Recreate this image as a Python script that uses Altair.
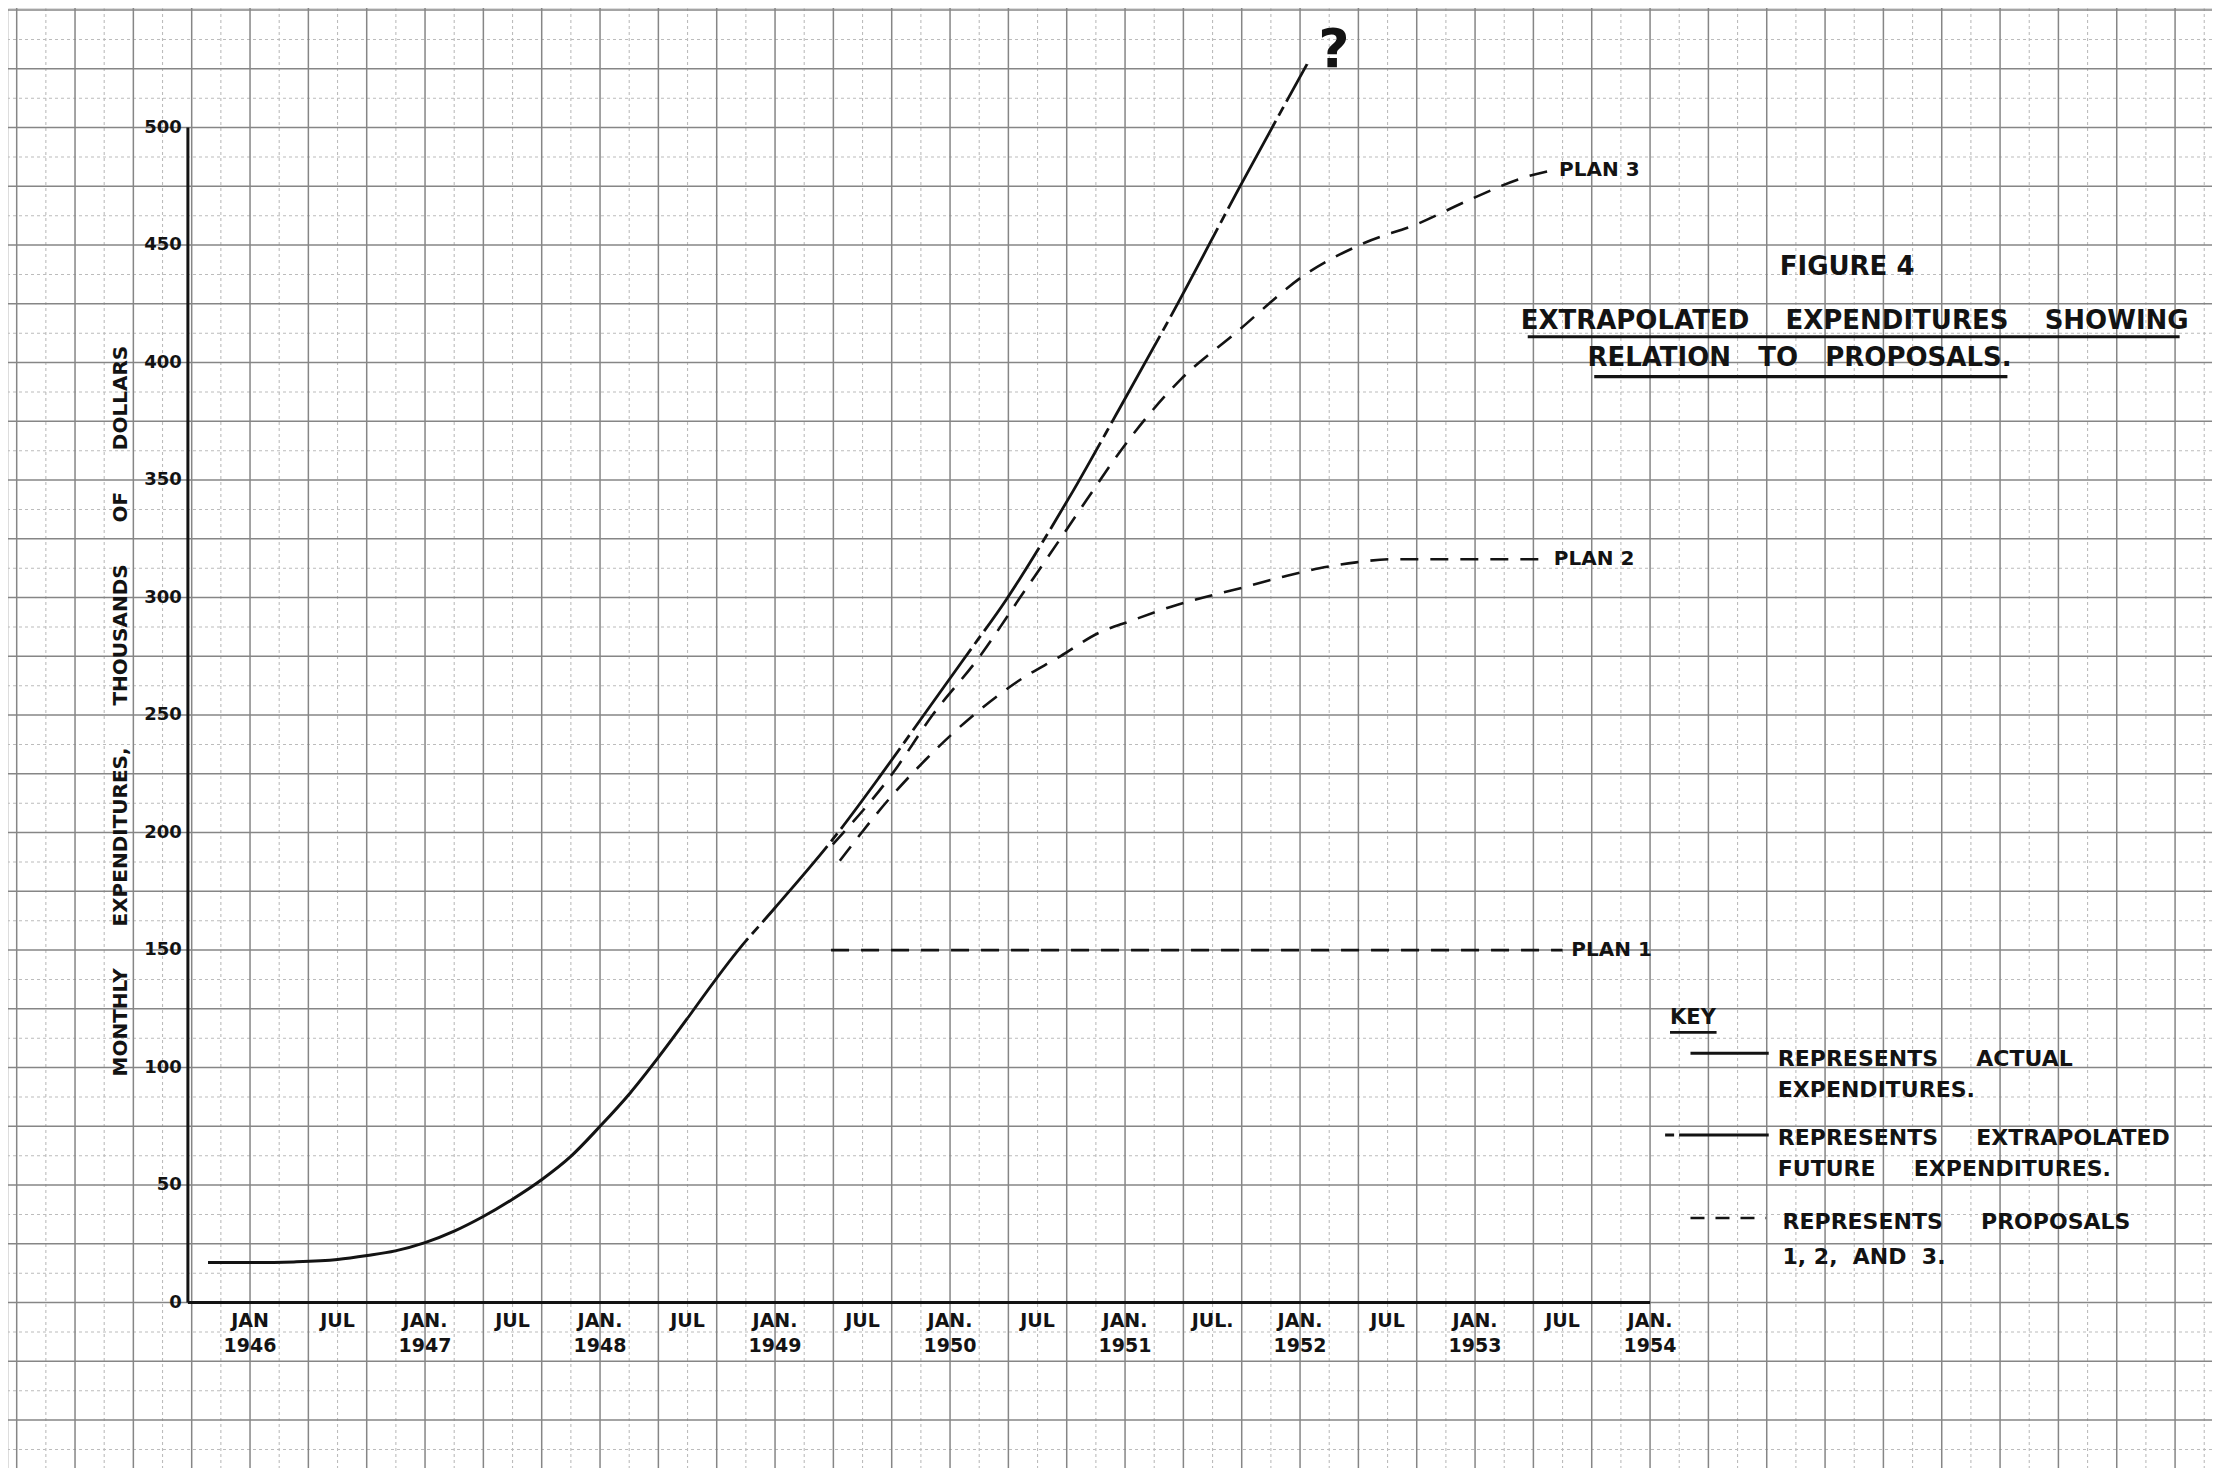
import altair as alt
import pandas as pd
import numpy as np

# ---------------- data ----------------
actual_year = [1945.76, 1946.0, 1946.25, 1946.5, 1946.67, 1946.83, 1947.0, 1947.17,
               1947.33, 1947.5, 1947.67, 1947.83, 1948.0, 1948.17, 1948.33, 1948.5]
actual_value = [17, 17, 17.3, 18.3, 20, 22, 25.5, 30.5, 36.5, 44, 52.5, 62, 75, 89, 104, 121]

extrap_year = [1948.5, 1948.79, 1949.0, 1949.36, 1949.6, 1949.84, 1950.08, 1950.32,
               1950.54, 1950.7, 1950.95, 1951.3, 1951.65, 1952.04]
extrap_value = [121, 150, 168, 200, 224, 249, 274, 299, 325, 345, 378, 425, 474, 527]

plan1_year = [1949.32, 1953.5]
plan1_value = [150, 150]

plan2_year = [1949.37, 1949.66, 1949.86, 1950.15, 1950.39, 1950.63, 1950.85, 1951.03,
              1951.3, 1951.5, 1951.71, 1951.91, 1952.11, 1952.32, 1952.52, 1953.4]
plan2_value = [188, 215, 231, 251, 264.5, 275, 285, 290, 297, 301, 305, 309, 312.5, 315, 316.3, 316.3]

plan3_year = [1949.33, 1949.67, 1949.9, 1950.17, 1950.4, 1950.63, 1950.78, 1950.97,
              1951.32, 1951.63, 1952.04, 1952.37, 1952.67, 1952.96, 1953.29, 1953.45]
plan3_value = [195, 225, 250, 275, 300, 325, 341.5, 362, 393, 412.5, 438, 451, 459, 469, 479, 482]

plan_label_text = ["PLAN 3", "PLAN 2", "PLAN 1"]
plan_label_year = [1953.48, 1953.45, 1953.55]
plan_label_value = [482, 316.3, 150]

x_tick_pos = [1946.0 + 0.5 * i for i in range(17)]
x_tick_month = ["JAN", "JUL", "JAN.", "JUL", "JAN.", "JUL", "JAN.", "JUL", "JAN.",
                "JUL", "JAN.", "JUL.", "JAN.", "JUL", "JAN.", "JUL", "JAN."]
x_tick_year = ["1946", "", "1947", "", "1948", "", "1949", "", "1950",
               "", "1951", "", "1952", "", "1953", "", "1954"]
y_tick_values = [0, 50, 100, 150, 200, 250, 300, 350, 400, 450, 500]

axis_x_start, axis_x_end = 1945.645, 1954.0
axis_y_top = 500

NB6 = "\u00a0" * 6
y_title = "MONTHLY" + NB6 + "EXPENDITURES," + NB6 + "THOUSANDS" + NB6 + "OF" + NB6 + "DOLLARS"
y_title_pos = (1945.263, 251.7)

NB4 = "\u00a0" * 4
NB3 = "\u00a0" * 3
title_text = ["FIGURE 4",
              "EXTRAPOLATED" + NB4 + "EXPENDITURES" + NB4 + "SHOWING",
              "RELATION" + NB3 + "TO" + NB3 + "PROPOSALS."]
title_year = [1955.126, 1955.169, 1954.854]
title_value = [440.5, 417.7, 402.0]
underline_x1 = [1953.301, 1953.681]
underline_x2 = [1957.026, 1956.042]
underline_value = [411.0, 394.0]

NB5 = "\u00a0" * 5
key_title = "KEY"
key_title_pos = (1954.114, 121.3)
key_title_underline = (1954.114, 1954.38, 115.0)
key_text = ["REPRESENTS" + NB5 + "ACTUAL", "EXPENDITURES.",
            "REPRESENTS" + NB5 + "EXTRAPOLATED", "FUTURE" + NB5 + "EXPENDITURES.",
            "REPRESENTS" + NB5 + "PROPOSALS", "1,\u00a02,\u00a0\u00a0AND\u00a0\u00a03."]
key_text_year = [1954.73, 1954.73, 1954.73, 1954.73, 1954.757, 1954.757]
key_text_value = [103.7, 90.5, 69.9, 56.9, 34.1, 19.5]
key_sample_solid = ([1954.231, 1954.678], [106.1, 106.1])
key_sample_extrap = ([1954.086, 1954.678], [71.3, 71.3])
key_sample_plan = ([1954.231, 1954.663], [36.0, 36.0])

question_mark = ("?", 1952.194, 532.5)

# ---------------- layout / style ----------------
W, H = 2204, 1460
X_DOMAIN = [1944.617, 1957.211]
Y_DOMAIN = [-70.4, 550.9]
INK = "#131313"
FONT = "DejaVu Sans"
GRID_MAJOR = "#868686"
GRID_MINOR = "#bcbcbc"

xs = alt.Scale(domain=X_DOMAIN, nice=False, zero=False)
ys = alt.Scale(domain=Y_DOMAIN, nice=False, zero=False)

# graph-paper grid: heavy lines every 4 months / 25 units, light lines halfway between
k0 = int(np.ceil((X_DOMAIN[0] - 1946) * 6))
k1 = int(np.floor((X_DOMAIN[1] - 1946) * 6))
grid_x_major = [round(1946 + k / 6, 6) for k in range(k0, k1 + 1) if k % 2 == 0]
grid_x_minor = [round(1946 + k / 6, 6) for k in range(k0, k1 + 1) if k % 2 != 0]
grid_y_all = [float(v) for v in np.arange(-75, 575, 12.5) if Y_DOMAIN[0] <= v <= Y_DOMAIN[1]]
grid_y_major = [v for v in grid_y_all if v % 25 == 0]
grid_y_minor = [v for v in grid_y_all if v % 25 != 0]


def X(field="x"):
    return alt.X(f"{field}:Q", scale=xs, axis=None)


def Y(field="y"):
    return alt.Y(f"{field}:Q", scale=ys, axis=None)


def series(xv, yv):
    return pd.DataFrame({"x": xv, "y": yv})


layers = []

# grid
layers.append(alt.Chart(pd.DataFrame({"x": grid_x_minor}))
              .mark_rule(color=GRID_MINOR, strokeWidth=1.1, strokeDash=[3, 3]).encode(x=X()))
layers.append(alt.Chart(pd.DataFrame({"y": grid_y_minor}))
              .mark_rule(color=GRID_MINOR, strokeWidth=1.1, strokeDash=[3, 3]).encode(y=Y()))
layers.append(alt.Chart(pd.DataFrame({"x": grid_x_major}))
              .mark_rule(color=GRID_MAJOR, strokeWidth=1.5).encode(x=X()))
layers.append(alt.Chart(pd.DataFrame({"y": grid_y_major}))
              .mark_rule(color=GRID_MAJOR, strokeWidth=1.5).encode(y=Y()))

# axis lines
layers.append(alt.Chart(pd.DataFrame({"x": [axis_x_start], "x2": [axis_x_end], "y": [0]}))
              .mark_rule(color=INK, strokeWidth=3)
              .encode(x=X(), x2="x2:Q", y=Y()))
layers.append(alt.Chart(pd.DataFrame({"x": [axis_x_start], "y": [0], "y2": [axis_y_top]}))
              .mark_rule(color=INK, strokeWidth=3)
              .encode(x=X(), y=Y(), y2="y2:Q"))

# curves
layers.append(alt.Chart(series(actual_year, actual_value))
              .mark_line(color=INK, strokeWidth=3, interpolate="monotone")
              .encode(x=X(), y=Y()))
layers.append(alt.Chart(series(extrap_year, extrap_value))
              .mark_line(color=INK, strokeWidth=2.8, interpolate="monotone", strokeDash=[100, 6, 10, 6])
              .encode(x=X(), y=Y()))
for py, pv in [(plan1_year, plan1_value), (plan2_year, plan2_value), (plan3_year, plan3_value)]:
    layers.append(alt.Chart(series(py, pv))
                  .mark_line(color=INK, strokeWidth=2.6, interpolate="monotone", strokeDash=[18, 12])
                  .encode(x=X(), y=Y()))

# plan labels
layers.append(alt.Chart(pd.DataFrame({"x": plan_label_year, "y": plan_label_value, "t": plan_label_text}))
              .mark_text(align="left", baseline="middle", font=FONT, fontSize=20, fontWeight="bold", color=INK)
              .encode(x=X(), y=Y(), text="t:N"))

# question mark
layers.append(alt.Chart(pd.DataFrame({"x": [question_mark[1]], "y": [question_mark[2]], "t": [question_mark[0]]}))
              .mark_text(align="center", baseline="middle", font=FONT, fontSize=54, fontWeight="bold", color=INK)
              .encode(x=X(), y=Y(), text="t:N"))

# tick labels
ticks_df = pd.DataFrame({"x": x_tick_pos, "y": [0] * len(x_tick_pos), "m": x_tick_month, "yr": x_tick_year})
layers.append(alt.Chart(ticks_df).mark_text(align="center", baseline="middle", font=FONT, fontSize=19,
                                            fontWeight="bold", color=INK, dy=18)
              .encode(x=X(), y=Y(), text="m:N"))
layers.append(alt.Chart(ticks_df).mark_text(align="center", baseline="middle", font=FONT, fontSize=19,
                                            fontWeight="bold", color=INK, dy=43)
              .encode(x=X(), y=Y(), text="yr:N"))
ytick_df = pd.DataFrame({"x": [axis_x_start] * len(y_tick_values), "y": y_tick_values,
                         "t": [str(v) for v in y_tick_values]})
layers.append(alt.Chart(ytick_df).mark_text(align="right", baseline="middle", font=FONT, fontSize=18,
                                            fontWeight="bold", color=INK, dx=-6)
              .encode(x=X(), y=Y(), text="t:N"))

# y axis title
layers.append(alt.Chart(pd.DataFrame({"x": [y_title_pos[0]], "y": [y_title_pos[1]], "t": [y_title]}))
              .mark_text(align="center", baseline="middle", font=FONT, fontSize=20, fontWeight="bold",
                         angle=270, color=INK)
              .encode(x=X(), y=Y(), text="t:N"))

# figure title
layers.append(alt.Chart(pd.DataFrame({"x": title_year, "y": title_value, "t": title_text}))
              .mark_text(align="center", baseline="middle", font=FONT, fontSize=26, fontWeight="bold", color=INK)
              .encode(x=X(), y=Y(), text="t:N"))
layers.append(alt.Chart(pd.DataFrame({"x": underline_x1, "x2": underline_x2, "y": underline_value}))
              .mark_rule(color=INK, strokeWidth=3.2)
              .encode(x=X(), x2="x2:Q", y=Y()))

# key
layers.append(alt.Chart(pd.DataFrame({"x": [key_title_pos[0]], "y": [key_title_pos[1]], "t": [key_title]}))
              .mark_text(align="left", baseline="middle", font=FONT, fontSize=21, fontWeight="bold", color=INK)
              .encode(x=X(), y=Y(), text="t:N"))
layers.append(alt.Chart(pd.DataFrame({"x": [key_title_underline[0]], "x2": [key_title_underline[1]],
                                      "y": [key_title_underline[2]]}))
              .mark_rule(color=INK, strokeWidth=2.6)
              .encode(x=X(), x2="x2:Q", y=Y()))
layers.append(alt.Chart(pd.DataFrame({"x": key_text_year, "y": key_text_value, "t": key_text}))
              .mark_text(align="left", baseline="middle", font=FONT, fontSize=22, fontWeight="bold", color=INK)
              .encode(x=X(), y=Y(), text="t:N"))
layers.append(alt.Chart(series(*key_sample_solid)).mark_line(color=INK, strokeWidth=3)
              .encode(x=X(), y=Y()))
layers.append(alt.Chart(series(*key_sample_extrap)).mark_line(color=INK, strokeWidth=2.8,
                                                              strokeDash=[9, 5, 100, 6])
              .encode(x=X(), y=Y()))
layers.append(alt.Chart(series(*key_sample_plan)).mark_line(color=INK, strokeWidth=2.6,
                                                            strokeDash=[14, 11])
              .encode(x=X(), y=Y()))

chart = (alt.layer(*layers)
         .properties(width=W, height=H, padding=0, autosize=alt.AutoSizeParams(type="none"))
         .configure_view(stroke=None)
         .configure(background="white"))

chart.save("out.html", embed_options={"renderer": "svg", "actions": False})
